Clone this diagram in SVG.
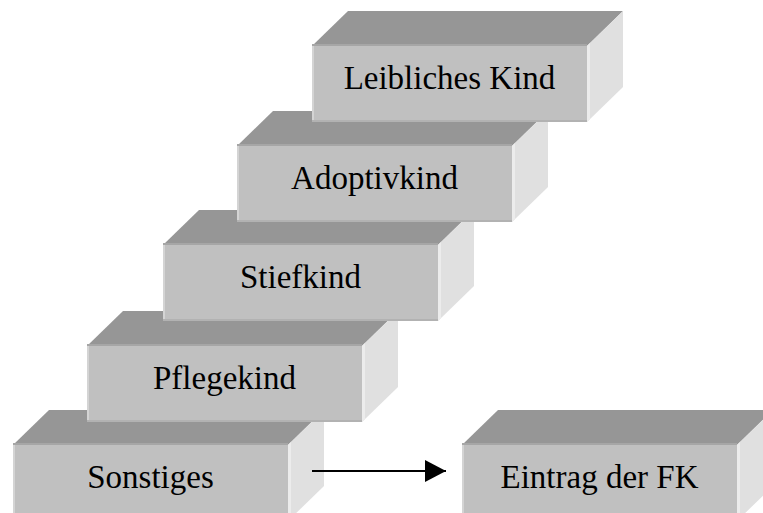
<svg xmlns="http://www.w3.org/2000/svg" width="763" height="513" viewBox="0 0 763 513">
  <defs>
    <style>
      .front { fill: #c0c0c0; }
      .top { fill: #969696; }
      .side { fill: #e0e0e0; }
      .topedge { fill: #a6a6a6; }
      .lightedge { fill: #d4d4d4; }
      .darkedge { fill: #b2b2b2; }
      .sideedge { fill: #ececec; }
      .label { font-family: "Liberation Serif", "Times New Roman", serif; font-size: 33px; fill: #000; text-anchor: middle; }
      .conn { stroke: #000; stroke-width: 2; fill: none; }
    </style>
    <!-- One 3D block: front face 275x76, depth offset (36,-35) -->
    <g id="block">
      <polygon class="top" points="0,0 36,-35 311,-35 275,0"/>
      <polygon class="side" points="275,0 311,-35 311,41 275,76"/>
      <polygon class="sideedge" points="275,0 278,-3 278,73 275,76"/>
      <rect class="front" x="0" y="0" width="275" height="76"/>
      <rect class="topedge" x="0" y="-2" width="275" height="2"/>
      <rect class="lightedge" x="0" y="0" width="2" height="76"/>
      <rect class="darkedge" x="0" y="74" width="275" height="2"/>
    </g>
    <marker id="arrowhead" markerUnits="userSpaceOnUse" markerWidth="22" markerHeight="24" refX="21" refY="11" orient="auto">
      <polygon points="0,0 21,11 0,22" fill="#000"/>
    </marker>
  </defs>

  <g id="node-sonstiges">
    <use href="#block" x="13" y="445"/>
    <text class="label" x="150.5" y="488">Sonstiges</text>
  </g>
  <g id="node-pflegekind">
    <use href="#block" x="87" y="346"/>
    <text class="label" x="224.5" y="388.5">Pflegekind</text>
  </g>
  <g id="node-stiefkind">
    <use href="#block" x="163" y="245"/>
    <text class="label" x="300.5" y="287.5">Stiefkind</text>
  </g>
  <g id="node-adoptivkind">
    <use href="#block" x="237" y="146"/>
    <text class="label" x="374.5" y="188.5">Adoptivkind</text>
  </g>
  <g id="node-leibliches">
    <use href="#block" x="312" y="46"/>
    <text class="label" x="449.5" y="88.5">Leibliches Kind</text>
  </g>
  <g id="node-eintrag">
    <use href="#block" x="462" y="445"/>
    <text class="label" x="599.5" y="488">Eintrag der FK</text>
  </g>

  <g id="connectors">
    <line class="conn" x1="312" y1="471" x2="446" y2="471" marker-end="url(#arrowhead)"/>
  </g>
</svg>
